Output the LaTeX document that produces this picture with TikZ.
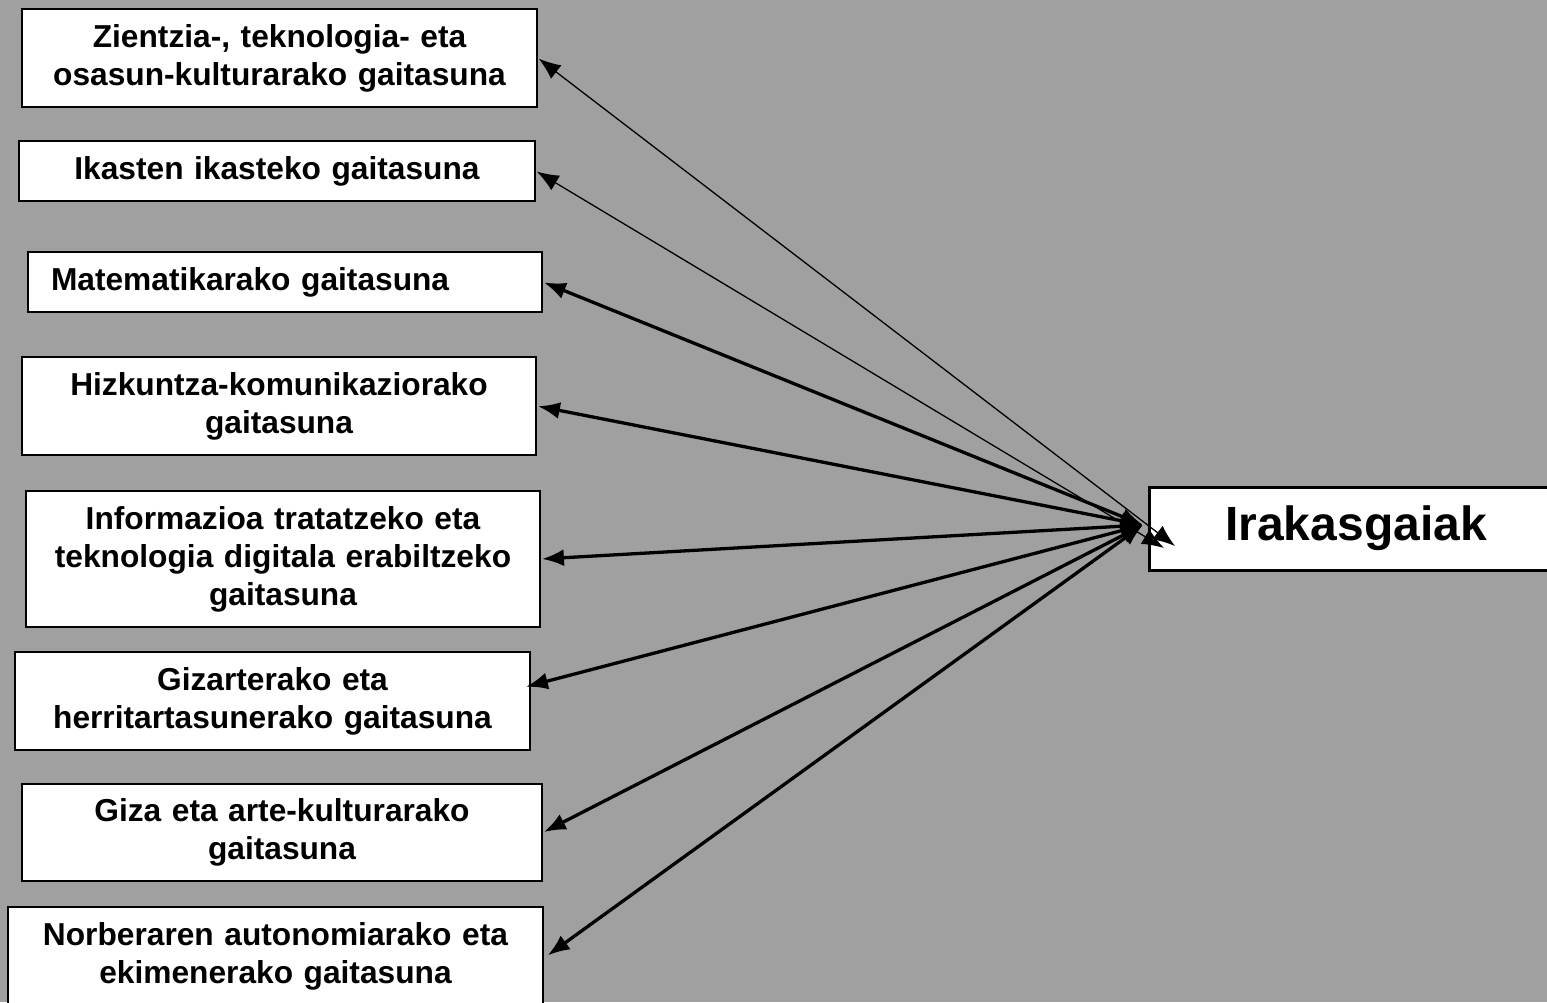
\documentclass[tikz,border=0pt]{standalone}
\usepackage{fontspec}
\setmainfont{Liberation Sans}
\usetikzlibrary{arrows.meta}
\definecolor{bggray}{RGB}{160,160,160}

\begin{document}
\begin{tikzpicture}[x=1pt,y=-1pt]

\tikzstyle{gaitasun} = [rectangle, draw=black, line width=1.8pt, fill=white, inner sep=0pt, align=center, font=\fontsize{31.7}{38}\selectfont\bfseries, text=black]
\tikzstyle{irakas} = [gaitasun, line width=3pt, font=\fontsize{48}{56}\selectfont\bfseries]
\tikzstyle{gaiarc} = [{Latex[length=22pt,width=17pt]}-{Latex[length=22pt,width=17pt]}, line width=3.3pt, shorten <=1pt]
\tikzstyle{gaiarcthin} = [gaiarc, line width=1.3pt]

\fill[bggray] (0,0) rectangle (1547,1002);
\clip (0,0) rectangle (1547,1002);

\node[gaitasun, text width=515pt, minimum height=98pt] (zientzia) at (279.5,58) {Zientzia-, teknologia- eta\\osasun-kulturarako gaitasuna};
\node[gaitasun, text width=516pt, minimum height=60pt] (ikasten) at (277,171) {Ikasten ikasteko gaitasuna};
\node[gaitasun, text width=468pt, inner xsep=23pt, align=left, minimum height=60pt] (matematika) at (285,282) {Matematikarako gaitasuna};
\node[gaitasun, text width=514pt, minimum height=98pt] (hizkuntza) at (279,406) {Hizkuntza-komunikaziorako\\gaitasuna};
\node[gaitasun, text width=514pt, minimum height=136pt] (informazioa) at (283,559) {Informazioa tratatzeko eta\\teknologia digitala erabiltzeko\\gaitasuna};
\node[gaitasun, text width=515pt, minimum height=98pt] (gizarte) at (272.5,701) {Gizarterako eta\\herritartasunerako gaitasuna};
\node[gaitasun, text width=520pt, minimum height=97pt] (giza) at (282,832.5) {Giza eta arte-kulturarako\\gaitasuna};
\node[gaitasun, text width=535pt, minimum height=98pt] (norberaren) at (275.5,956) {Norberaren autonomiarako eta\\ekimenerako gaitasuna};

\node[irakas, text width=414pt, minimum height=83pt] (irakasgaiak) at (1356,528.5) {Irakasgaiak};

\coordinate (hub) at (1143,525);
\coordinate (hubA) at (1175,546);
\coordinate (hubB) at (1164,548);

\draw[gaiarcthin] (zientzia.east) -- (hubA);
\draw[gaiarcthin] (ikasten.east) -- (hubB);
\draw[gaiarc] (matematika.east) -- (hub);
\draw[gaiarc] (hizkuntza.east) -- (hub);
\draw[gaiarc] (informazioa.east) -- (hub);
\draw[gaiarc] ([xshift=-6pt,yshift=14pt]gizarte.east) -- (hub);
\draw[gaiarc] (giza.east) -- (hub);
\draw[gaiarc] ([xshift=3pt]norberaren.east) -- (hub);

\end{tikzpicture}
\end{document}
